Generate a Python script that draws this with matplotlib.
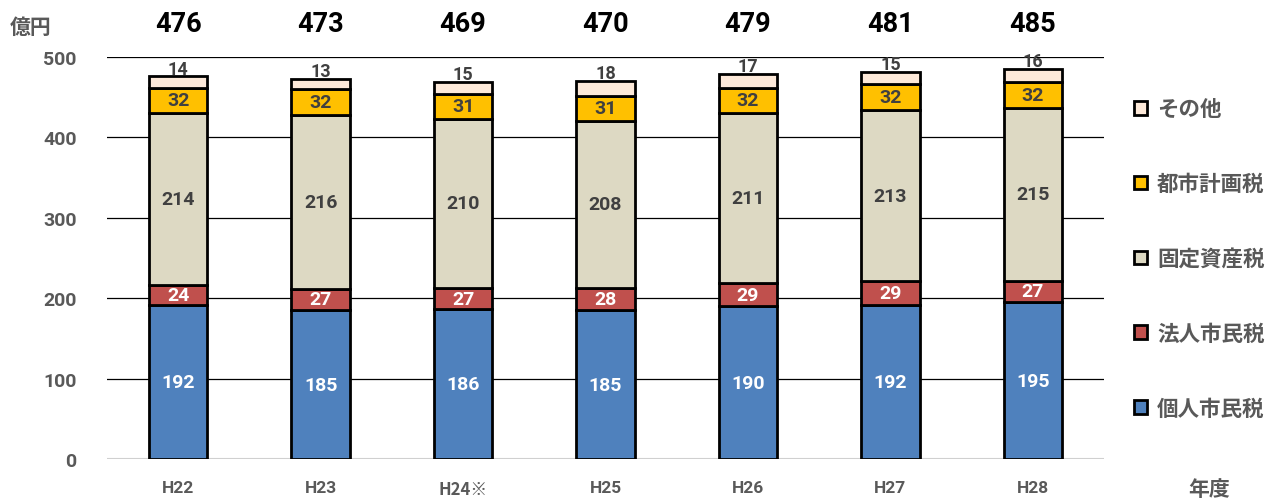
import matplotlib
matplotlib.use("Agg")
import matplotlib.pyplot as plt
from matplotlib.patches import Patch
import matplotlib.transforms as mtransforms
import numpy as np

years = ["H22", "H23", "H24※", "H25", "H26", "H27", "H28"]
kojin = [192, 185, 186, 185, 190, 192, 195]
hojin = [24, 27, 27, 28, 29, 29, 27]
kotei = [214, 216, 210, 208, 211, 213, 215]
toshi = [32, 32, 31, 31, 32, 32, 32]
sonota = [14, 13, 15, 18, 17, 15, 16]
totals = [476, 473, 469, 470, 479, 481, 485]
series_names = ["個人市民税", "法人市民税", "固定資産税", "都市計画税", "その他"]
colors = ["#4F81BD", "#C0504D", "#DDD9C3", "#FFC000", "#FDE9D9"]
label_colors = ["white", "white", "#404040", "#404040", "#404040"]

NUM = ["Roboto", "Noto Sans CJK JP", "DejaVu Sans"]
JP = ["Noto Sans CJK JP", "DejaVu Sans"]
GREY = "#595959"

fig = plt.figure(figsize=(12.87, 5.02), dpi=100)
ax = fig.add_axes([107/1287, 1-460/502, (1104-107)/1287, (460-58)/502])
ax.set_xlim(-0.5, len(years)-0.5)
ax.set_ylim(0, 500)

for yv in [100, 200, 300, 400, 500]:
    ax.axhline(yv, color="black", lw=0.9, zorder=0)
ax.axhline(0, color="#D0D0D0", lw=1.5, zorder=0)

x = np.arange(len(years))
data = [kojin, hojin, kotei, toshi, sonota]
bottom = np.zeros(len(years))
w = 0.41
for i, (vals, c) in enumerate(zip(data, colors)):
    vals = np.array(vals)
    ax.bar(x, vals, w, bottom=bottom, color=c, edgecolor="black", linewidth=2.0, zorder=3)
    for xi, b, v in zip(x, bottom, vals):
        if i < 4:
            ax.text(xi, b + v/2, str(v), ha="center", va="center", fontsize=14,
                    fontweight="bold", color=label_colors[i], family=NUM, zorder=5)
        else:
            ax.text(xi, b + v - 1.5, str(v), ha="center", va="bottom", fontsize=13,
                    fontweight="bold", color=label_colors[i], family=NUM, zorder=5)
    bottom = bottom + vals

trans = mtransforms.blended_transform_factory(ax.transData, fig.transFigure)
for xi, t in zip(x, totals):
    ax.text(xi, 1-25/502, str(t), transform=trans, ha="center", va="center",
            fontsize=19.5, fontweight="bold", color="black", family=NUM)

for s in ax.spines.values():
    s.set_visible(False)
ax.tick_params(length=0)
ax.set_yticks([0, 100, 200, 300, 400, 500])
ax.set_yticklabels(["0", "100", "200", "300", "400", "500"], fontsize=14,
                   fontweight="bold", color=GREY, family=NUM)
ax.tick_params(axis="y", pad=22)
ax.set_xticks(x)
ax.set_xticklabels(years, fontsize=12.5, fontweight="bold", color=GREY, family=NUM)
for lbl in ax.get_xticklabels():
    if "※" in lbl.get_text():
        lbl.set_family(JP)
        lbl.set_fontsize(12)
ax.tick_params(axis="x", pad=15)

fig.text(10/1287, 1-27/502, "億円", fontsize=15, fontweight="bold", color=GREY,
         family=JP, ha="left", va="center")
fig.text(1188/1287, 1-490/502, "年度", fontsize=15, fontweight="bold", color=GREY,
         family=JP, ha="left", va="center")

handles = [Patch(facecolor=c, edgecolor="black", linewidth=2.0) for c in colors][::-1]
labels = series_names[::-1]
leg = fig.legend(handles, labels, loc="upper left", bbox_to_anchor=(1115/1287, 1-80/502),
                 frameon=False, handlelength=0.6, handleheight=0.6, handletextpad=0.45,
                 labelspacing=2.5, prop={"family": JP, "weight": "bold", "size": 15.5})
for txt in leg.get_texts():
    txt.set_color(GREY)

fig.savefig("out.png", dpi=100)
